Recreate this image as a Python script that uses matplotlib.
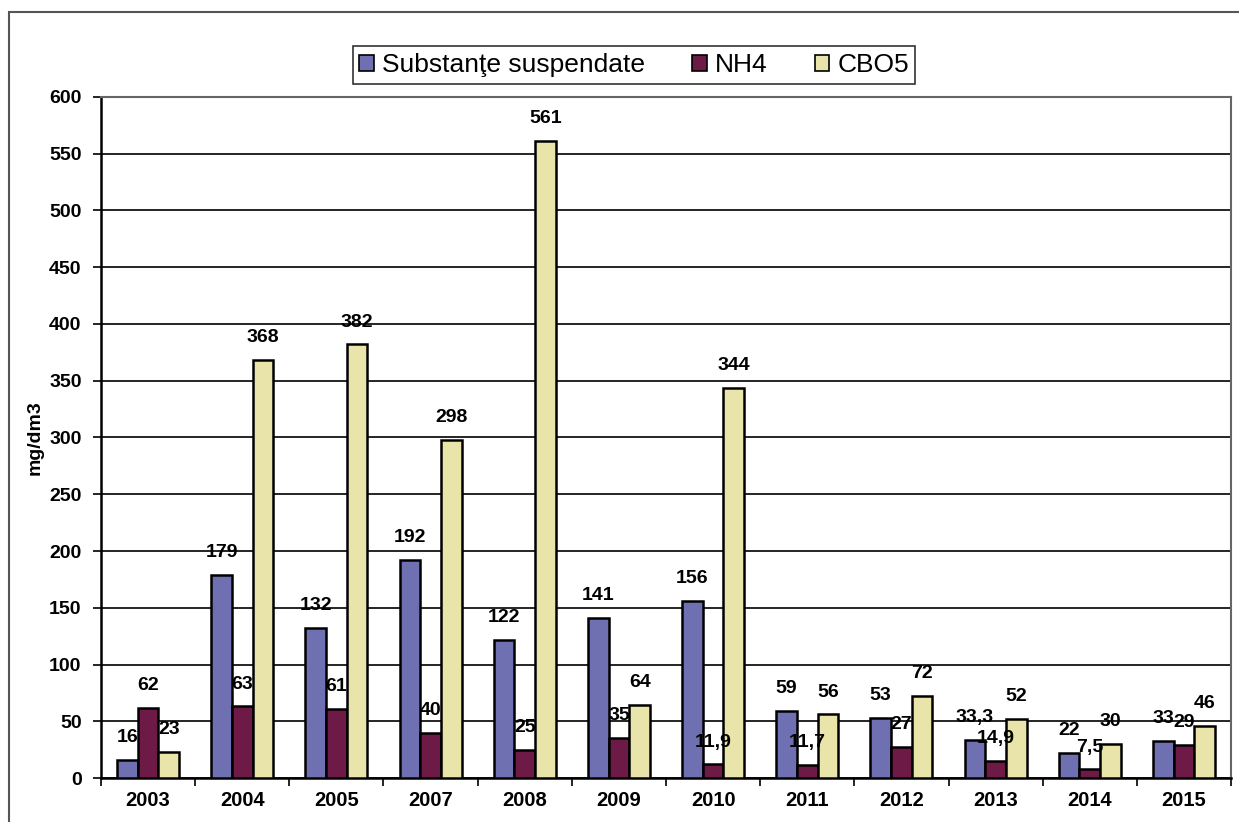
import numpy as np
import matplotlib.pyplot as plt
from matplotlib.patches import Rectangle

plt.rcParams['font.family'] = ['Liberation Sans', 'DejaVu Sans']
plt.rcParams['font.weight'] = 'bold'

years = ['2003', '2004', '2005', '2007', '2008', '2009', '2010',
         '2011', '2012', '2013', '2014', '2015']
susp = [16, 179, 132, 192, 122, 141, 156, 59, 53, 33.3, 22, 33]
nh4 = [62, 63, 61, 40, 25, 35, 11.9, 11.7, 27, 14.9, 7.5, 29]
cbo5 = [23, 368, 382, 298, 561, 64, 344, 56, 72, 52, 30, 46]
series_names = ['Substanţe suspendate', 'NH4', 'CBO5']
colors = ['#6E70B2', '#6E1A47', '#E9E5AA']

fig = plt.figure(figsize=(12.39, 8.22), dpi=100)
ax = fig.add_axes([101 / 1239, 44 / 822, 1130 / 1239, 681 / 822])

# outer chart frame
fig.patches.append(Rectangle((9 / 1239, -0.1), 1.2, (822 - 12) / 822 + 0.1,
                             transform=fig.transFigure, fill=False,
                             edgecolor='#555555', lw=1.5))

x = np.arange(len(years))
w = 0.22


def fmt(v):
    return ('%g' % v).replace('.', ',')


for i, (vals, c) in enumerate(zip([susp, nh4, cbo5], colors)):
    bars = ax.bar(x + (i - 1) * w, vals, w, color=c, edgecolor='black',
                  linewidth=1.8, zorder=3)
    for b, v in zip(bars, vals):
        ax.annotate(fmt(v), (b.get_x() + b.get_width() / 2, v),
                    xytext=(0, 10), textcoords='offset points',
                    ha='center', va='bottom', fontsize=14,
                    fontweight='bold', zorder=4)

ax.set_xlim(-0.5, len(years) - 0.5)
ax.set_ylim(0, 600)
ax.set_yticks(np.arange(0, 601, 50))
ax.yaxis.grid(True, color='black', lw=1.2, zorder=0)
ax.set_xticks(x)
ax.set_xticklabels(years)
ax.set_xticks(np.arange(-0.5, len(years), 1), minor=True)
ax.tick_params(axis='x', which='major', length=0, pad=9, labelsize=14.5)
ax.tick_params(axis='x', which='minor', length=6, width=1.2)
ax.tick_params(axis='y', length=6, width=1.2, labelsize=14, pad=8)

for s in ['left', 'bottom']:
    ax.spines[s].set_color('black')
    ax.spines[s].set_linewidth(1.8)
for s in ['top', 'right']:
    ax.spines[s].set_color('#666666')
    ax.spines[s].set_linewidth(1.5)

ax.set_ylabel('mg/dm3', fontsize=14, fontweight='bold', labelpad=4)

handles = [Rectangle((0, 0), 1, 1, facecolor=c, edgecolor='black', lw=1.2)
           for c in colors]
leg = fig.legend(handles, series_names, loc='center',
                 bbox_to_anchor=(634 / 1239, 1 - 65 / 822), ncol=3,
                 frameon=True, fancybox=False, edgecolor='black',
                 prop={'size': 19, 'weight': 'normal'},
                 handlelength=0.55, handleheight=0.55, handletextpad=0.3,
                 columnspacing=1.8, borderpad=0.25, borderaxespad=0)
leg.get_frame().set_linewidth(1.2)

fig.savefig('out.png', dpi=100)
